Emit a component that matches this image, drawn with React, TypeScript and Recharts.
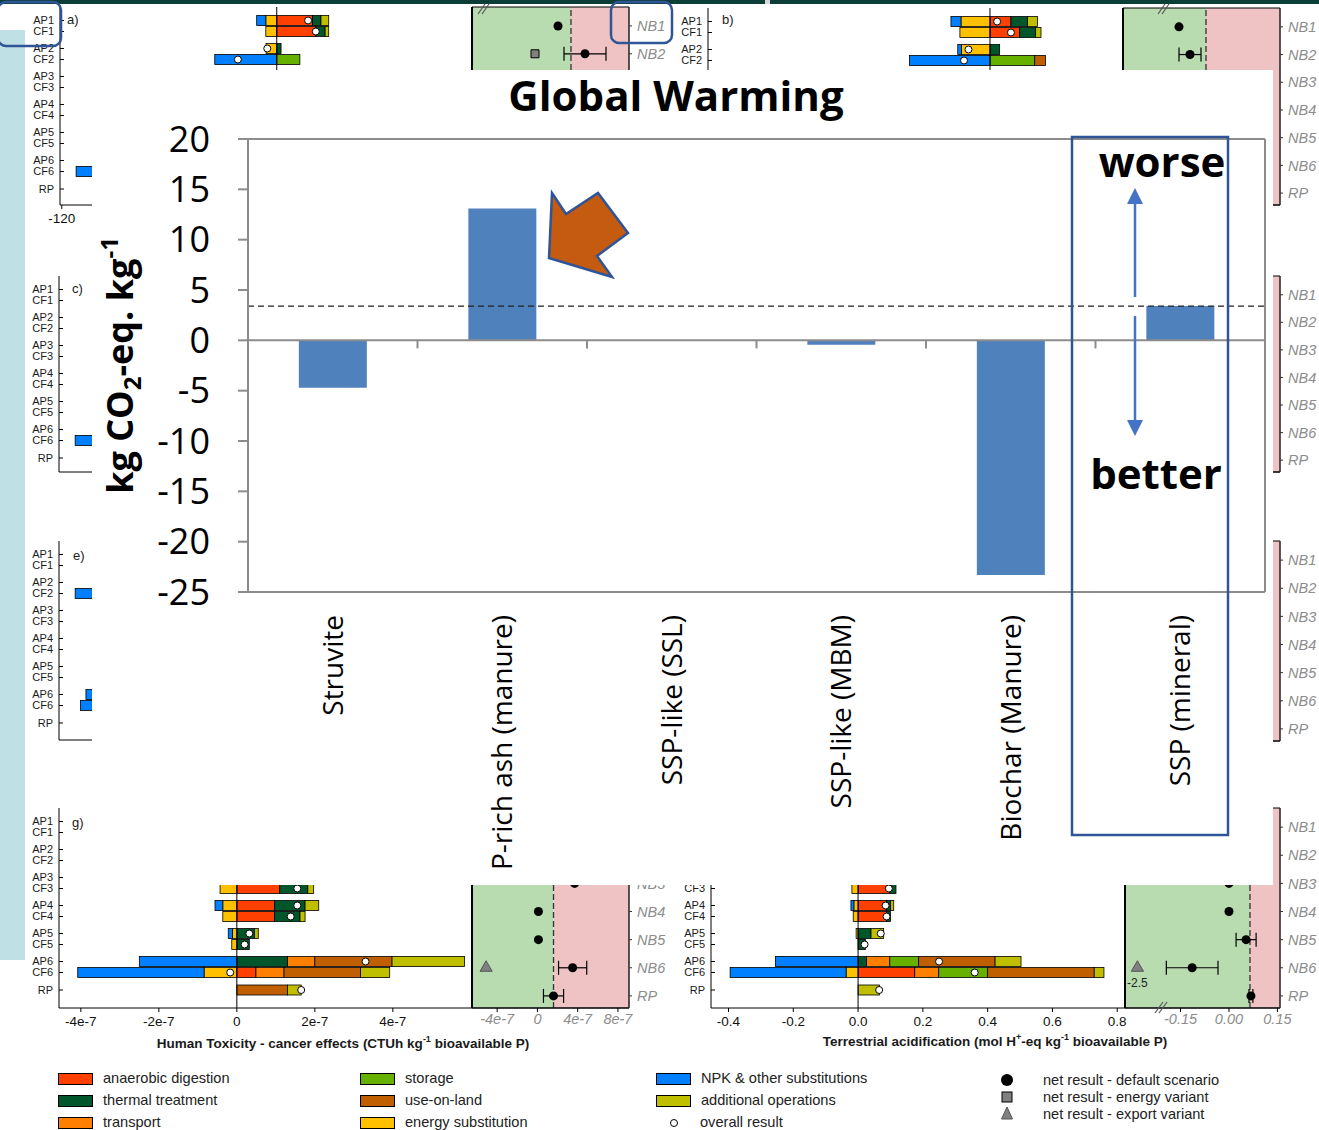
import React from "react";
import {
  BarChart,
  Bar,
  ComposedChart,
  Line,
  ScatterChart,
  Scatter,
  ErrorBar,
  XAxis,
  YAxis,
  ReferenceLine,
  ReferenceArea,
  LabelList,
} from "recharts";

const SANS = '"Liberation Sans", Arial, sans-serif';
const OPEN = '"Open Sans", sans-serif';

// main chart: global warming per kg
const CATEGORIES = [
  "Struvite",
  "P-rich ash (manure)",
  "SSP-like (SSL)",
  "SSP-like (MBM)",
  "Biochar (Manure)",
  "SSP (mineral)",
];
const GWP = [-4.7, 13.1, 0, -0.45, -23.3, 3.4];
const GWP_TICKS = [20, 15, 10, 5, 0, -5, -10, -15, -20, -25];
const REFERENCE = "SSP (mineral)";

// background panels (contribution analysis)
const SERIES = [
  "anaerobic digestion",
  "thermal treatment",
  "transport",
  "storage",
  "use-on-land",
  "additional operations",
  "energy substitution",
  "NPK & other substitutions",
];
const SERIES_COLORS = ["#ff4000", "#00562b", "#ff8000", "#66b000", "#c05f00", "#bfbf00", "#ffc000", "#0080ff"];
const PAIRS = [1, 2, 3, 4, 5, 6];
const ROWS = [...PAIRS.flatMap((p) => [`AP${p}`, `CF${p}`]), "RP"];
const NB_ROWS = ["NB1", "NB2", "NB3", "NB4", "NB5", "NB6", "RP"];

type Row = [string, number[], number | null];
// segments follow SERIES order
const GW_A: Row[] = [
  ["AP1", [20, 4.7, 0, 0, 0, 4.3, -6.1, -5.1], 17.5],
  ["CF1", [21.8, 5.2, 0, 0, 0, 2, -6.1, 0], 21.8],
  ["AP2", [0, 2.4, 0, 0, 0, 0, -6, 0], -5.3],
  ["CF2", [0, 0, 0, 12.9, 0, 0, 0, -34.6], -21.7],
  ["CF6", [0, 0, 0, 0, 0, 0, 0, -112], null],
];
const GW_B: Row[] = [
  ["AP1", [11.7, 9.3, 0, 0, 0, 5.5, -16.2, -5.6], 4],
  ["CF1", [16.6, 8.9, 0, 0, 0, 3, -16.8, 0], 11.7],
  ["AP2", [0, 5.4, 0, 0, 0, 0, -16, -2], -12],
  ["CF2", [0, 0, 0, 25, 6, 0, 0, -45], -14.5],
];
const PANEL_C: Row[] = [["CF6", [0, 0, 0, 0, 0, 0, 0, -112], null]];
const PANEL_E: Row[] = [
  ["CF2", [0, 0, 0, 0, 0, 0, 0, -112], null],
  ["AP6", [0, 0, 0, 0, 0, 0, 0, -106], null],
  ["CF6", [0, 0, 0, 0, 0, 0, 0, -109], null],
];
// x 1e-7
const TOXICITY: Row[] = [
  ["CF3", [1.1, 0.72, 0, 0, 0, 0.15, -0.43, 0], 1.55],
  ["AP4", [0.97, 0.78, 0, 0, 0, 0.35, -0.36, -0.2], 1.55],
  ["CF4", [0.97, 0.65, 0, 0, 0, 0.13, -0.36, 0], 1.38],
  ["AP5", [0, 0.45, 0, 0, 0, 0.1, -0.11, -0.11], 0.32],
  ["CF5", [0, 0.32, 0, 0, 0, 0, -0.13, 0], 0.2],
  ["AP6", [0, 1.3, 0.7, 0, 1.98, 1.86, 0, -2.5], 3.3],
  ["CF6", [0.49, 0, 0.72, 0, 1.96, 0.75, -0.84, -3.24], -0.17],
  ["RP", [0, 0, 0, 0, 1.3, 0.35, 0, 0], 1.65],
];
const ACIDIFICATION: Row[] = [
  ["CF3", [0.098, 0.019, 0, 0, 0, 0, -0.019, 0], 0.095],
  ["AP4", [0.088, 0.012, 0, 0, 0, 0.01, -0.013, -0.009], 0.085],
  ["CF4", [0.088, 0.012, 0, 0, 0, 0, -0.015, 0], 0.088],
  ["AP5", [0, 0.04, 0, 0, 0, 0.039, -0.006, 0], 0.07],
  ["CF5", [0, 0.023, 0, 0, 0, 0, 0, 0], 0.02],
  ["AP6", [0, 0.026, 0.072, 0.089, 0.236, 0.08, 0, -0.255], 0.25],
  ["CF6", [0.175, 0, 0.074, 0.151, 0.329, 0.03, -0.037, -0.358], 0.36],
  ["RP", [0, 0, 0, 0, 0, 0.066, 0, 0], 0.065],
];

// net results: [row, value, error]
type Pt = [string, number, number?];
const A_NET: Pt[] = [["NB1", -13], ["NB2", 14, 21]];
const A_ENERGY: Pt[] = [["NB2", -36]];
const B_NET: Pt[] = [["NB1", -27], ["NB2", -16, 11]];
const TOX_NET: Pt[] = [["NB3", 3.7], ["NB4", 0.1], ["NB5", 0.1], ["NB6", 3.5, 1.4], ["RP", 1.6, 1.0]];
const TOX_EXPORT: Pt[] = [["NB6", -5.1]];
const ACID_NET: Pt[] = [["NB3", 0], ["NB4", 0], ["NB5", 0.053, 0.031], ["NB6", -0.114, 0.08], ["RP", 0.068, 0.006]];
const ACID_EXPORT: Pt[] = [["NB6", -2.5]];

const LEGEND_COLUMNS = [
  ["anaerobic digestion", "thermal treatment", "transport"],
  ["storage", "use-on-land", "energy substitution"],
  ["NPK & other substitutions", "additional operations"],
];
const RESULT_MARKERS = ["net result - default scenario", "net result - energy variant", "net result - export variant"];

// pull the AP/CF pair of each group together
const rowShift = (name: string) => (name.startsWith("AP") ? 1.5 : name.startsWith("CF") ? -1.5 : 2);

function stackData(rows: Row[]) {
  return ROWS.map((name) => {
    const r = rows.find((x) => x[0] === name);
    const o: any = { name, overall: r ? r[2] : null };
    SERIES.forEach((_, i) => (o[`s${i}`] = r ? r[1][i] : 0));
    return o;
  });
}

function Segment(props: any) {
  const { x, y, width, height, fill, payload } = props;
  if (!width || !height) return <g />;
  const left = width < 0 ? x + width : x;
  return (
    <rect x={left} y={y + rowShift(payload.name)} width={Math.abs(width)} height={height} fill={fill} stroke="#000" strokeWidth={0.8} />
  );
}

function RowTick({ x, y, payload, show }: any) {
  const name = String(payload.value);
  const y0 = y + rowShift(name);
  return (
    <g>
      <line x1={x} x2={x + 4} y1={y0} y2={y0} stroke="#000" />
      {(!show || show.includes(name)) && (
        <text x={x - 6} y={y0} dy="0.35em" textAnchor="end" fontSize={11} fill="#1a1a1a" fontFamily={SANS}>
          {name}
        </text>
      )}
    </g>
  );
}

function StackPanel({ rows, x0, x1, y0, y1, domain, ticks, fmt, labelRows }: any) {
  const labelW = 40;
  const pad = 2;
  const data = stackData(rows);
  const padBottom = y1 - y0 - 5 - 14 * ROWS.length;
  return (
    <div style={{ position: "absolute", left: x0 - labelW - pad, top: y0 - pad }}>
      <ComposedChart
        width={x1 - x0 + labelW + 2 * pad}
        height={y1 - y0 + 30 + 2 * pad}
        data={data}
        layout="vertical"
        stackOffset="sign"
        barSize={10}
        margin={{ top: pad, right: pad, bottom: pad, left: pad }}
      >
        <XAxis
          type="number"
          domain={domain}
          allowDataOverflow
          ticks={ticks || []}
          tick={ticks ? { fontSize: 13.5, fill: "#111", fontFamily: SANS } : false}
          tickFormatter={fmt}
          tickSize={4}
          tickMargin={4}
          height={30}
          axisLine={{ stroke: "#000" }}
          tickLine={{ stroke: "#000" }}
        />
        <XAxis
          xAxisId="frame"
          orientation="top"
          type="number"
          domain={domain}
          allowDataOverflow
          height={0}
          tick={false}
          tickLine={false}
          axisLine={{ stroke: "#000" }}
        />
        <YAxis
          type="category"
          dataKey="name"
          width={labelW}
          interval={0}
          padding={{ top: 5, bottom: padBottom }}
          tickLine={false}
          tickSize={0}
          tickMargin={0}
          tick={<RowTick show={labelRows} />}
          axisLine={{ stroke: "#000" }}
        />
        <ReferenceLine x={domain[1]} stroke="#000" />
        <ReferenceLine x={0} stroke="#000" />
        {SERIES.map((s, i) => (
          <Bar key={s} dataKey={`s${i}`} stackId="c" fill={SERIES_COLORS[i]} shape={<Segment />} isAnimationActive={false} />
        ))}
        <Line
          dataKey="overall"
          stroke="none"
          isAnimationActive={false}
          activeDot={false}
          dot={(p: any) =>
            p.value == null || p.cx == null ? (
              <g key={p.index} />
            ) : (
              <circle key={p.index} cx={p.cx} cy={p.cy + rowShift(p.payload.name)} r={3.5} fill="#fff" stroke="#000" strokeWidth={1} />
            )
          }
        />
      </ComposedChart>
    </div>
  );
}

function Inset({ x0, x1, y0, y1, domain, refV, ticks, fmt, net = [], energy = [], exported = [], labelRows = NB_ROWS }: any) {
  const rightW = 48;
  const pad = 2;
  const span = domain[1] - domain[0];
  const pts = (list: Pt[]) =>
    list.map(([row, v, err]) => {
      const shown = Math.max(v, domain[0] + 0.08 * span);
      return { idx: NB_ROWS.indexOf(row) + 1, v: shown, err, lbl: shown !== v ? String(v) : "" };
    });
  const all = pts(net);
  const withErr = all.filter((p) => p.err != null);
  const plain = all.filter((p) => p.err == null);
  const tickStyle = { fontSize: 14.5, fill: "#8c8c8c", fontStyle: "italic", fontFamily: SANS };
  return (
    <div style={{ position: "absolute", left: x0 - pad, top: y0 - pad }}>
      <ScatterChart width={x1 - x0 + rightW + 2 * pad} height={y1 - y0 + 30 + 2 * pad} margin={{ top: pad, right: pad, bottom: pad, left: pad }}>
        <XAxis
          type="number"
          dataKey="v"
          domain={domain}
          allowDataOverflow
          ticks={ticks || []}
          tick={ticks ? tickStyle : false}
          tickFormatter={fmt}
          tickSize={4}
          height={30}
          axisLine={{ stroke: "#000" }}
          tickLine={{ stroke: "#000" }}
        />
        <YAxis
          type="number"
          dataKey="idx"
          orientation="right"
          domain={[0.32, 7.43]}
          reversed
          allowDataOverflow
          ticks={labelRows.map((r: string) => NB_ROWS.indexOf(r) + 1)}
          interval={0}
          tickFormatter={(i: number) => NB_ROWS[i - 1]}
          width={rightW}
          tickSize={3}
          tickMargin={5}
          tick={tickStyle}
          axisLine={{ stroke: "#333" }}
          tickLine={{ stroke: "#333" }}
        />
        <ReferenceArea x1={domain[0]} x2={refV} fill="#b8dbb0" fillOpacity={1} stroke="none" />
        <ReferenceArea x1={refV} x2={domain[1]} fill="#efc3c4" fillOpacity={1} stroke="none" />
        <ReferenceLine x={refV} stroke="#333" strokeDasharray="6 3" strokeWidth={1.3} />
        <ReferenceArea x1={domain[0]} x2={domain[1]} fill="none" stroke="#000" strokeWidth={1} />
        <ReferenceLine x={domain[0]} stroke="#000" strokeWidth={2} />
        <Scatter data={withErr} fill="#000" shape="circle" isAnimationActive={false}>
          <ErrorBar dataKey="err" direction="x" width={7} stroke="#000" strokeWidth={1.2} />
        </Scatter>
        <Scatter data={plain} fill="#000" shape="circle" isAnimationActive={false} />
        <Scatter data={pts(energy)} fill="#808080" stroke="#000" shape="square" isAnimationActive={false} />
        <Scatter data={pts(exported)} fill="#808080" stroke="#555" shape="triangle" isAnimationActive={false}>
          <LabelList dataKey="lbl" position="bottom" offset={6} fontSize={12} fill="#222" fontFamily={SANS} />
        </Scatter>
      </ScatterChart>
    </div>
  );
}

function CategoryTick({ x, y, payload }: any) {
  return (
    <text transform={`translate(${x},${y + 15}) rotate(-90)`} textAnchor="end" dy="0.36em" fontSize={28} fontFamily={OPEN} fill="#000">
      {payload.value}
    </text>
  );
}

function UnitLabel({ viewBox }: any) {
  const cx = viewBox.x + 40;
  const cy = viewBox.y + viewBox.height / 2;
  return (
    <text transform={`rotate(-90 ${cx} ${cy})`} x={cx} y={cy} dy="0.35em" textAnchor="middle" fontFamily={OPEN} fontWeight={700} fontSize={36} fill="#000">
      kg CO
      <tspan fontSize={24} dy={8}>2</tspan>
      <tspan dy={-8}>-eq. kg</tspan>
      <tspan fontSize={24} dy={-15}>-1</tspan>
    </text>
  );
}

function GlobalWarming() {
  const data = CATEGORIES.map((name, i) => ({ name, value: GWP[i] }));
  const refValue = GWP[CATEGORIES.indexOf(REFERENCE)];
  const grey = "#8c8c8c";
  return (
    <div style={{ position: "absolute", left: 0, top: 0 }}>
      <BarChart width={1319} height={900} data={data} margin={{ top: 139, right: 54, bottom: 18, left: 80 }} barCategoryGap="30%">
        <XAxis dataKey="name" type="category" interval={0} height={290} axisLine={{ stroke: grey, strokeWidth: 2 }} tickLine={false} tick={<CategoryTick />} />
        <YAxis
          type="number"
          domain={[-25, 20]}
          ticks={GWP_TICKS}
          interval={0}
          width={168}
          tickSize={10}
          tickMargin={28}
          axisLine={{ stroke: grey, strokeWidth: 2 }}
          tickLine={{ stroke: grey, strokeWidth: 2 }}
          tick={{ fontSize: 36, fill: "#000", fontFamily: OPEN }}
          label={<UnitLabel />}
        />
        <ReferenceLine y={20} stroke={grey} strokeWidth={2} />
        <ReferenceLine x={CATEGORIES[CATEGORIES.length - 1]} position="end" stroke={grey} strokeWidth={2} />
        <ReferenceLine y={0} stroke={grey} strokeWidth={2} />
        {CATEGORIES.slice(0, -1).map((c) => (
          <ReferenceLine key={c} segment={[{ x: c, y: 0 }, { x: c, y: -0.8 }]} position="end" stroke={grey} strokeWidth={2} />
        ))}
        <Bar dataKey="value" fill="#4f81bd" isAnimationActive={false} />
        <ReferenceLine y={refValue} stroke="#222" strokeDasharray="6 4" strokeWidth={1.4} />
      </BarChart>
    </div>
  );
}

function Legend() {
  const xs = [58, 360, 656];
  const ys = [1079, 1101, 1123];
  const txt: React.CSSProperties = { position: "absolute", fontSize: 14.6, color: "#222", fontFamily: SANS, lineHeight: "16px", whiteSpace: "nowrap" };
  return (
    <>
      {LEGEND_COLUMNS.map((col, c) =>
        col.map((name, r) => (
          <React.Fragment key={name}>
            <div
              style={{
                position: "absolute",
                left: xs[c],
                top: ys[r] - 6,
                width: 35,
                height: 12,
                background: SERIES_COLORS[SERIES.indexOf(name)],
                border: "1px solid #000",
                boxSizing: "border-box",
              }}
            />
            <div style={{ ...txt, left: xs[c] + 45, top: ys[r] - 9 }}>{name}</div>
          </React.Fragment>
        ))
      )}
      <div style={{ ...txt, left: 700, top: ys[2] - 9 }}>overall result</div>
      <svg style={{ position: "absolute", left: 0, top: 0 }} width={1319} height={1130}>
        <circle cx={674} cy={ys[2]} r={3.5} fill="#fff" stroke="#000" />
        <circle cx={1007} cy={1080} r={6} fill="#000" />
        <rect x={1002} y={1092} width={10} height={10} fill="#808080" stroke="#000" />
        <polygon points="1007,1107 1001.5,1119 1012.5,1119" fill="#808080" stroke="#555" />
      </svg>
      {RESULT_MARKERS.map((m, i) => (
        <div key={m} style={{ ...txt, left: 1043, top: 1072 + i * 17 }}>
          {m}
        </div>
      ))}
    </>
  );
}

function PanelMarks() {
  const f = { fontFamily: SANS, fill: "#1a1a1a" };
  return (
    <svg style={{ position: "absolute", left: 0, top: 0 }} width={1319} height={1130}>
      <text x={67} y={24} fontSize={13} {...f}>a)</text>
      <text x={722} y={24} fontSize={13} {...f}>b)</text>
      <text x={72} y={293} fontSize={13} {...f}>c)</text>
      <text x={73} y={560} fontSize={13} {...f}>e)</text>
      <text x={72} y={827} fontSize={13} {...f}>g)</text>
      <g stroke="#555" strokeWidth={1.2}>
        <line x1={478} y1={14} x2={485} y2={4} />
        <line x1={482} y1={14} x2={489} y2={4} />
        <line x1={1158} y1={14} x2={1165} y2={4} />
        <line x1={1162} y1={14} x2={1169} y2={4} />
        <line x1={1155} y1={1013} x2={1163} y2={1002} />
        <line x1={1159} y1={1013} x2={1167} y2={1002} />
      </g>
      <text x={343} y={1048} textAnchor="middle" fontSize={13.5} fontWeight={700} {...f}>
        Human Toxicity - cancer effects (CTUh kg<tspan fontSize={9} dy={-6}>-1</tspan>
        <tspan dy={6}> bioavailable P)</tspan>
      </text>
      <text x={995} y={1046} textAnchor="middle" fontSize={13.5} fontWeight={700} {...f}>
        Terrestrial acidification (mol H<tspan fontSize={9} dy={-6}>+</tspan>
        <tspan dy={6}>-eq kg</tspan>
        <tspan fontSize={9} dy={-6}>-1</tspan>
        <tspan dy={6}> bioavailable P)</tspan>
      </text>
    </svg>
  );
}

function Annotations() {
  const blue = "#4472c4";
  return (
    <svg style={{ position: "absolute", left: 0, top: 0 }} width={1319} height={1130}>
      <text x={676} y={111} textAnchor="middle" fontFamily={OPEN} fontWeight={700} fontSize={42} fill="#000">
        Global Warming
      </text>
      <polygon
        points="552,193 566,214 598,193 628,233 597,256 612,277 549,258"
        fill="#c55a11"
        stroke="#2f5597"
        strokeWidth={2.5}
      />
      <rect x={1072} y={137} width={156} height={698} fill="none" stroke="#2f5597" strokeWidth={2.5} />
      <line x1={1135} y1={297} x2={1135} y2={200} stroke={blue} strokeWidth={2.5} />
      <polygon points="1135,188 1127,204 1143,204" fill={blue} />
      <line x1={1135} y1={316} x2={1135} y2={424} stroke={blue} strokeWidth={2.5} />
      <polygon points="1135,436 1127,420 1143,420" fill={blue} />
      <text x={1162} y={177} textAnchor="middle" fontFamily={OPEN} fontWeight={700} fontSize={42} fill="#000">
        worse
      </text>
      <text x={1156} y={489} textAnchor="middle" fontFamily={OPEN} fontWeight={700} fontSize={42} fill="#000">
        better
      </text>
    </svg>
  );
}

export default function App() {
  const expFmt = (v: number) => (v === 0 ? "0" : `${v}e-7`);
  const lowerRows = ROWS.slice(5);
  return (
    <div style={{ position: "absolute", left: 0, top: 0, width: 1319, height: 1130, background: "#fff", overflow: "hidden", fontFamily: SANS }}>
      <div style={{ position: "absolute", left: 0, top: 0, width: 1319, height: 4, background: "#0c3d37" }} />
      <div style={{ position: "absolute", left: 765, top: 0, width: 5, height: 4, background: "#d8d8d8" }} />
      <div style={{ position: "absolute", left: 0, top: 30, width: 25, height: 930, background: "#bfe0e4" }} />

      <StackPanel rows={GW_A} x0={60} x1={472} y0={7} y1={205} domain={[-121, 109]} ticks={[-120]} fmt={String} />
      <StackPanel rows={GW_B} x0={708} x1={1123} y0={8} y1={205} domain={[-157.5, 74.3]} labelRows={ROWS.slice(0, 4)} />
      <StackPanel rows={PANEL_C} x0={59} x1={472} y0={276} y1={472} domain={[-121, 109]} />
      <StackPanel rows={PANEL_E} x0={59} x1={472} y0={541} y1={740} domain={[-121, 109]} />
      <StackPanel rows={TOXICITY} x0={59} x1={472} y0={808} y1={1008} domain={[-4.56, 6.03]} ticks={[-4, -2, 0, 2, 4]} fmt={expFmt} />
      <StackPanel
        rows={ACIDIFICATION}
        x0={711}
        x1={1125}
        y0={808}
        y1={1008}
        domain={[-0.454, 0.824]}
        ticks={[-0.4, -0.2, 0, 0.2, 0.4, 0.6, 0.8]}
        fmt={(v: number) => v.toFixed(1)}
        labelRows={lowerRows}
      />

      <Inset x0={472} x1={629} y0={7} y1={205} domain={[-99, 58]} refV={0} net={A_NET} energy={A_ENERGY} labelRows={NB_ROWS.slice(0, 2)} />
      <Inset x0={1123} x1={1280} y0={8} y1={205} domain={[-83, 74]} refV={0} net={B_NET} />
      <Inset x0={1123} x1={1280} y0={276} y1={472} domain={[-83, 74]} refV={0} />
      <Inset x0={1123} x1={1280} y0={541} y1={741} domain={[-83, 74]} refV={0} />
      <Inset
        x0={472}
        x1={629}
        y0={808}
        y1={1008}
        domain={[-6.5, 9.1]}
        refV={1.6}
        ticks={[-4, 0, 4, 8]}
        fmt={expFmt}
        net={TOX_NET}
        exported={TOX_EXPORT}
        labelRows={NB_ROWS.slice(2)}
      />
      <Inset
        x0={1125}
        x1={1280}
        y0={808}
        y1={1008}
        domain={[-0.322, 0.158]}
        refV={0.065}
        ticks={[-0.15, 0, 0.15]}
        fmt={(v: number) => v.toFixed(2)}
        net={ACID_NET}
        exported={ACID_EXPORT}
      />
      <PanelMarks />

      <div style={{ position: "absolute", left: 92, top: 70, width: 1181, height: 815, background: "#fff" }} />
      <GlobalWarming />
      <Annotations />
      <Legend />

      <svg style={{ position: "absolute", left: 0, top: 0 }} width={1319} height={60}>
        <rect x={-2} y={2} width={63} height={44} rx={8} fill="none" stroke="#2f5597" strokeWidth={2.5} />
        <rect x={611} y={2} width={61} height={41} rx={8} fill="none" stroke="#2f5597" strokeWidth={2.5} />
      </svg>
    </div>
  );
}
